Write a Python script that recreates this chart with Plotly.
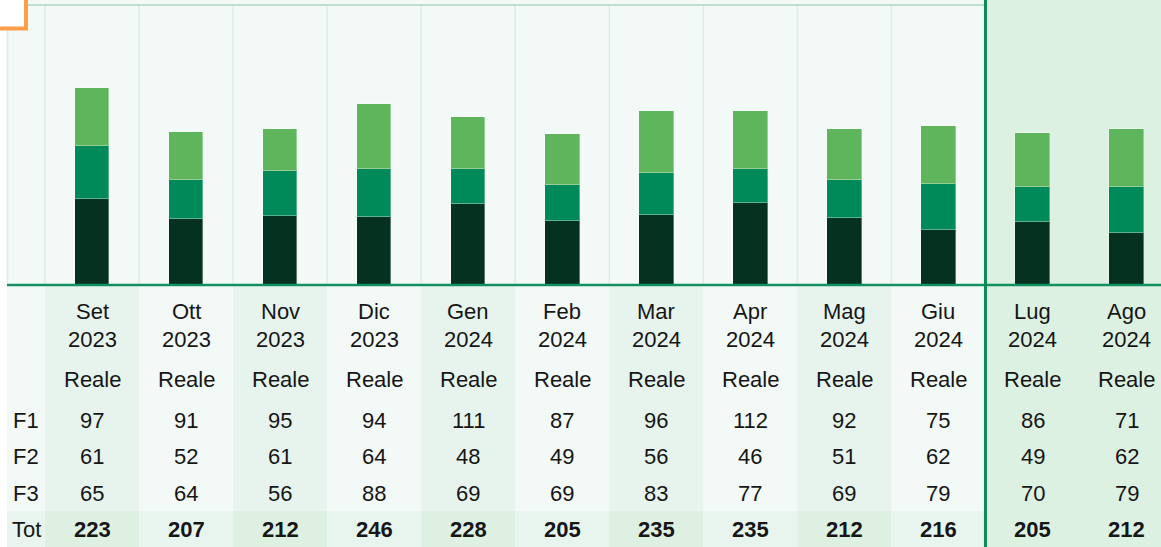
import plotly.graph_objects as go

# ---------------- data ----------------
months = ["Set", "Ott", "Nov", "Dic", "Gen", "Feb", "Mar", "Apr", "Mag", "Giu", "Lug", "Ago"]
years = ["2023", "2023", "2023", "2023", "2024", "2024", "2024", "2024", "2024", "2024", "2024", "2024"]
row_kind = ["Reale"] * 12

# table values
tab_f1 = [97, 91, 95, 94, 111, 87, 96, 112, 92, 75, 86, 71]
tab_f2 = [61, 52, 61, 64, 48, 49, 56, 46, 51, 62, 49, 62]
tab_f3 = [65, 64, 56, 88, 69, 69, 83, 77, 69, 79, 70, 79]
tab_tot = [223, 207, 212, 246, 228, 205, 235, 235, 212, 216, 205, 212]

# bar segment heights (chart units)
bar_f1 = [85.5, 65.5, 69.0, 67.5, 81.0, 63.5, 70.0, 82.0, 66.5, 54.5, 62.5, 51.5]
bar_f2 = [53.0, 39.5, 44.5, 48.0, 34.5, 36.0, 41.5, 33.5, 38.0, 46.0, 35.5, 46.0]
bar_f3 = [58.5, 47.5, 42.5, 65.0, 52.5, 51.5, 62.5, 58.0, 51.5, 58.5, 53.5, 58.5]
y_max = 279.5

row_labels = ["F1", "F2", "F3", "Tot"]

# ---------------- style ----------------
W, H = 1161, 547
C_F1, C_F2, C_F3 = "#053220", "#008A59", "#5EB55C"
BG_PLOT = "#F3F9F7"
BG_ODD = "#E7F4EE"
BG_TOT_ODD = "#DDF0E2"
BG_TOT_EVEN = "#E8F5EE"
BG_RIGHT = "#DDF1E2"
GREEN_LINE = "#129060"
FONT = "Liberation Sans"
TXT = "#161616"
FS = 22

def px(x):
    return x / W

def py(y):
    return 1 - y / H

x_lo = -92 / 94.05
x_hi = (W - 92) / 94.05
xs = list(range(len(months)))

fig = go.Figure()
for vals, col, name in [(bar_f1, C_F1, "F1"), (bar_f2, C_F2, "F2"), (bar_f3, C_F3, "F3")]:
    fig.add_trace(go.Bar(
        x=xs, y=vals, name=name, width=0.367,
        marker=dict(color=col, line=dict(color="rgba(255,255,255,0.35)", width=1)),
        hoverinfo="skip",
    ))

shapes = []
# plot background (left part)
shapes.append(dict(type="rect", xref="paper", yref="paper", x0=px(7), x1=px(985), y0=py(285), y1=1,
                   fillcolor=BG_PLOT, line_width=0, layer="below"))
# table background default
shapes.append(dict(type="rect", xref="paper", yref="paper", x0=px(7), x1=px(985), y0=0, y1=py(285),
                   fillcolor=BG_PLOT, line_width=0, layer="below"))
# label column tot row
shapes.append(dict(type="rect", xref="paper", yref="paper", x0=px(7), x1=px(45), y0=0, y1=py(511),
                   fillcolor=BG_TOT_EVEN, line_width=0, layer="below"))
for i in range(10):
    if i % 2 == 0:
        shapes.append(dict(type="rect", xref="x", yref="paper", x0=i - 0.5, x1=i + 0.5, y0=py(511), y1=py(286),
                           fillcolor=BG_ODD, line_width=0, layer="below"))
    shapes.append(dict(type="rect", xref="x", yref="paper", x0=i - 0.5, x1=i + 0.5, y0=0, y1=py(511),
                       fillcolor=BG_TOT_ODD if i % 2 == 0 else BG_TOT_EVEN, line_width=0, layer="below"))
# vertical separators in plot area
shapes.append(dict(type="line", xref="paper", yref="paper", x0=px(7.5), x1=px(7.5), y0=py(285), y1=py(5),
                   line=dict(color="#DCEFE3", width=1.5), layer="below"))
for i in range(10):
    shapes.append(dict(type="line", xref="x", yref="paper", x0=i - 0.5, x1=i - 0.5, y0=py(285), y1=py(5),
                       line=dict(color="#DCEFE3", width=1.5), layer="below"))
# top border
shapes.append(dict(type="line", xref="paper", yref="paper", x0=px(7), x1=px(985), y0=py(5), y1=py(5),
                   line=dict(color="#A9D7C0", width=1.5), layer="below"))
# right (forecast) region
shapes.append(dict(type="rect", xref="x", yref="paper", x0=9.5, x1=x_hi + 1, y0=0, y1=1,
                   fillcolor=BG_RIGHT, line_width=0, layer="below"))
# baseline
shapes.append(dict(type="line", xref="paper", yref="paper", x0=px(7), x1=1, y0=py(285), y1=py(285),
                   line=dict(color=GREEN_LINE, width=2.5), layer="above"))
# separator line
shapes.append(dict(type="line", xref="x", yref="paper", x0=9.5, x1=9.5, y0=0, y1=1,
                   line=dict(color="#0E8A5A", width=3), layer="above"))
# orange corner marker
shapes.append(dict(type="rect", xref="paper", yref="paper", x0=px(-5), x1=px(26), y0=py(28.5), y1=py(-5),
                   fillcolor="white", line=dict(color="#FF9E4A", width=4), layer="above"))

annotations = []
def add_text(x, y, text, bold=False, xref="x"):
    annotations.append(dict(x=x, y=py(y), xref=xref, yref="paper", text=f"<b>{text}</b>" if bold else text,
                            showarrow=False, xanchor="center", yanchor="middle",
                            font=dict(family=FONT, size=FS, color=TXT)))

for i in xs:
    add_text(i, 312, months[i])
    add_text(i, 339, years[i])
    add_text(i, 379, row_kind[i])
    add_text(i, 420, str(tab_f1[i]))
    add_text(i, 456.5, str(tab_f2[i]))
    add_text(i, 493, str(tab_f3[i]))
    add_text(i, 529.5, str(tab_tot[i]), bold=True)
for lab, yy in zip(row_labels, [420, 456.5, 493, 529.5]):
    add_text(px(26), yy, lab, xref="paper")

fig.update_layout(
    width=W, height=H, margin=dict(l=0, r=0, t=0, b=0),
    barmode="stack", bargap=0,
    paper_bgcolor="white", plot_bgcolor="rgba(0,0,0,0)",
    showlegend=False,
    xaxis=dict(range=[x_lo, x_hi], domain=[0, 1], visible=False, fixedrange=True),
    yaxis=dict(range=[0, y_max], domain=[py(284.5), py(5)], visible=False, fixedrange=True),
    shapes=shapes, annotations=annotations,
)

fig.write_html("out.html")
